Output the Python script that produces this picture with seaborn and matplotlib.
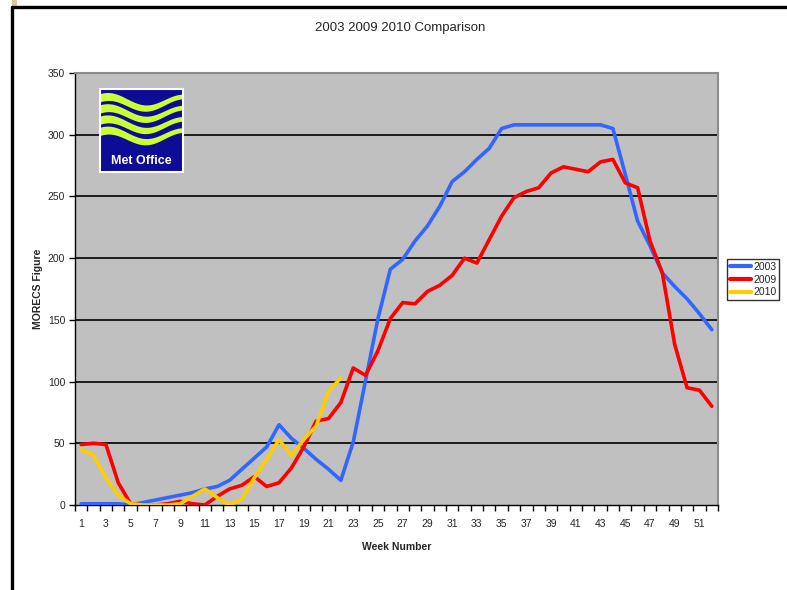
import numpy as np
import pandas as pd
import matplotlib
matplotlib.use("Agg")
import matplotlib.pyplot as plt
import seaborn as sns
from matplotlib.lines import Line2D
from matplotlib.patches import Rectangle

# MORECS weekly values
weeks = list(range(1, 53))
values2003 = [1, 1, 1, 1, 0, 2, 4, 6, 8, 10,
              13, 15, 20, 29, 38, 47, 65, 54, 46, 37,
              29, 20, 51, 101, 151, 191, 199, 214, 226, 242,
              262, 270, 280, 289, 305, 308, 308, 308, 308, 308,
              308, 308, 308, 305, 268, 230, 210, 188, 177, 167,
              155, 142]
values2009 = [49, 50, 49, 18, 1, 0, 0, 1, 3, 1,
              0, 7, 13, 16, 23, 15, 18, 30, 47, 68,
              70, 83, 111, 105, 125, 151, 164, 163, 173, 178,
              186, 200, 196, 215, 234, 249, 254, 257, 269, 274,
              272, 270, 278, 280, 261, 257, 214, 188, 130, 95,
              93, 80]
values2010 = [45, 40, 22, 8, 1, 0, 0, 0, 1, 7,
              13, 6, 0, 5, 22, 37, 53, 40, 53, 64,
              92, 103]
years = ["2003", "2009", "2010"]
colours = {"2003": "#3366FF", "2009": "#FF0000", "2010": "#FFCC00"}
yTicks = [0, 50, 100, 150, 200, 250, 300, 350]

df = pd.concat([
    pd.DataFrame({"Week": weeks, "Value": values2003, "Year": "2003"}),
    pd.DataFrame({"Week": weeks, "Value": values2009, "Year": "2009"}),
    pd.DataFrame({"Week": weeks[:len(values2010)], "Value": values2010, "Year": "2010"}),
])

sns.set_style("white")
plt.rcParams['font.family'] = ['Liberation Sans', 'DejaVu Sans']

W, H = 787, 590
fig = plt.figure(figsize=(W / 100, H / 100), dpi=100)
ax = fig.add_axes([75 / W, 1 - 505 / H, 643 / W, 432 / H])
ax.set_facecolor("#C0C0C0")

sns.lineplot(data=df, x="Week", y="Value", hue="Year", hue_order=years,
             palette=colours, linewidth=2.6, estimator=None, ax=ax, zorder=3)

ax.set_xlim(0.5, 52.5)
ax.set_ylim(0, 350)

# horizontal gridlines
for v in yTicks[1:-1]:
    ax.axhline(v, color="black", linewidth=1.2, zorder=1)

# x axis: ticks between categories, labels on odd weeks
ax.set_xticks(np.arange(0.5, 53, 1))
ax.set_xticklabels([])
odd = [w for w in weeks if w % 2 == 1]
ax.set_xticks(odd, minor=True)
ax.set_xticklabels([str(w) for w in odd], minor=True)
ax.tick_params(axis="x", which="major", direction="out", length=4, width=1,
               color="black", bottom=True)
ax.tick_params(axis="x", which="minor", length=0, pad=10, labelsize=7.5)

ax.set_yticks(yTicks)
ax.tick_params(axis="y", direction="out", length=4, width=1, color="black",
               left=True, labelsize=7.5, pad=3)

for s in ["left", "bottom"]:
    ax.spines[s].set_color("black")
    ax.spines[s].set_linewidth(1)
for s in ["top", "right"]:
    ax.spines[s].set_color("#8C8C8C")
    ax.spines[s].set_linewidth(1.5)

ax.set_xlabel("Week Number", fontsize=7.5, fontweight="bold")
ax.set_ylabel("MORECS Figure", fontsize=7.5, fontweight="bold")
ax.xaxis.set_label_coords(0.5, -0.085)
ax.yaxis.set_label_coords(-0.05, 0.5)

# legend outside on the right
handles, labels = ax.get_legend_handles_labels()
ax.legend_.remove()
leg = fig.legend(handles, labels, loc="upper left",
                 bbox_to_anchor=(727 / W, 1 - 259 / H), fontsize=7.5,
                 frameon=True, fancybox=False, edgecolor="black",
                 handlelength=2.0, handletextpad=0.2, borderpad=0.3,
                 labelspacing=0.25, borderaxespad=0)
leg.get_frame().set_linewidth(1)
for line in leg.get_lines():
    line.set_linewidth(3)

fig.text(400 / W, 1 - 28 / H, "2003 2009 2010 Comparison",
         ha="center", va="center", fontsize=9.5)

# page frame
fig.add_artist(Line2D([12 / W, 12 / W], [0, 1 - 7 / H], color="black", linewidth=2.4))
fig.add_artist(Line2D([12 / W, 1], [1 - 7 / H, 1 - 7 / H], color="black", linewidth=2.4))
fig.add_artist(Rectangle((12 / W, 1 - 6 / H), 5 / W, 6 / H,
                         transform=fig.transFigure, color="#D8C8A0", linewidth=0))

# Met Office logo
logo = fig.add_axes([100 / W, 1 - 172 / H, 83 / W, 83 / H])
logo.set_facecolor("#0C0C96")
logo.set_xlim(0, 1)
logo.set_ylim(0, 1)
logo.set_xticks([])
logo.set_yticks([])
for s in logo.spines.values():
    s.set_color("white")
    s.set_linewidth(1.5)
xs = np.linspace(0, 1, 200)
for k in range(4):
    yc = 0.84 - k * 0.135
    wave = yc + 0.07 * np.sin(2 * np.pi * (1.1 * xs) + 0.9)
    thick = 0.05 - 0.022 * xs
    logo.fill_between(xs, wave - thick, wave + thick, color="#CCFF33", linewidth=0)
logo.text(0.5, 0.13, "Met Office", color="white", fontsize=9, fontweight="bold",
          ha="center", va="center")

fig.savefig("out.png", dpi=100)
